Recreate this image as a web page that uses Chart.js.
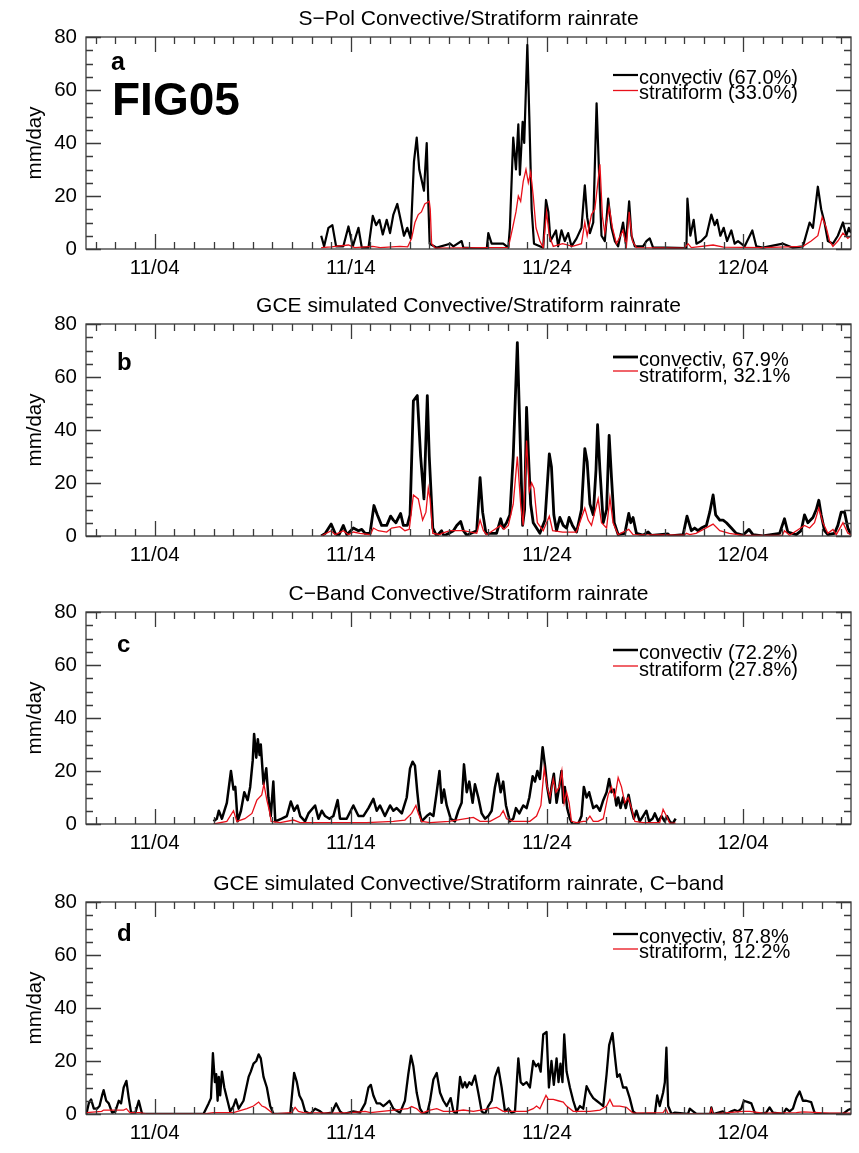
<!DOCTYPE html>
<html><head><meta charset="utf-8">
<script src="https://cdn.jsdelivr.net/npm/chart.js@4.4.1/dist/chart.umd.min.js"></script>
<style>
html,body{margin:0;padding:0;background:#fff;}
.p{position:absolute;left:0;width:859px;height:288px;}
canvas{display:block;}
</style></head><body>
<div class="p" style="top:0px"><canvas id="c0" width="859" height="288"></canvas></div>
<div class="p" style="top:287px"><canvas id="c1" width="859" height="288"></canvas></div>
<div class="p" style="top:575px"><canvas id="c2" width="859" height="288"></canvas></div>
<div class="p" style="top:865px"><canvas id="c3" width="859" height="288"></canvas></div>
<script>
// ---- categories / labels ----
const tickValues = [4, 14, 24, 34];            // day counted from Nov 0
const tickLabels = ['11/04', '11/14', '11/24', '12/04'];
const panelTitles = [
  'S\u2212Pol Convective/Stratiform rainrate',
  'GCE simulated Convective/Stratiform rainrate',
  'C\u2212Band Convective/Stratiform rainrate',
  'GCE simulated Convective/Stratiform rainrate, C\u2212band'
];
const panelLetters = ['a', 'b', 'c', 'd'];
const convLabels = ['convectiv (67.0%)', 'convectiv, 67.9%', 'convectiv (72.2%)', 'convectiv, 87.8%'];
const stratLabels = ['stratiform (33.0%)', 'stratiform, 32.1%', 'stratiform (27.8%)', 'stratiform, 12.2%'];

// ---- series values: [day, mm/day] ----
const spolConv = [[12.49,5],[12.64,1],[12.86,8],[13.06,9],[13.25,1],[13.62,1],[13.88,8.5],[14.1,1],[14.39,8],[14.56,0.5],[14.9,0.5],[15.12,12.5],[15.29,9],[15.46,11],[15.63,5.5],[15.83,11],[16.0,6],[16.17,13],[16.37,17],[16.54,11],[16.71,5],[16.88,8],[17.05,4],[17.22,33],[17.36,42],[17.49,30],[17.61,26],[17.73,22],[17.87,40],[17.95,18],[18.02,2],[18.38,0.5],[19.06,2],[19.23,1],[19.65,3],[19.74,0.5],[20.93,0],[21.01,6],[21.18,2],[21.77,2],[22.03,0.5],[22.11,8],[22.28,42],[22.42,30],[22.54,47],[22.62,28],[22.76,48],[22.84,40],[23.0,77],[23.1,50],[23.22,15],[23.34,2],[23.81,0.5],[23.95,18.5],[24.07,14],[24.18,3],[24.46,7],[24.57,1],[24.74,7],[24.91,3],[25.08,6],[25.25,1],[25.51,4],[25.76,8],[25.93,24],[26.05,12],[26.19,6],[26.36,10],[26.53,55],[26.65,30],[26.78,5],[26.95,3],[27.12,19],[27.29,8],[27.46,3],[27.63,1],[27.88,10],[28.02,2],[28.19,18],[28.31,5],[28.48,1],[28.9,1],[29.07,3],[29.24,4],[29.41,0.5],[30.09,0.5],[31.11,0.3],[31.16,19],[31.31,5],[31.48,11],[31.62,2],[31.87,3],[32.13,5],[32.38,13],[32.55,9],[32.67,11],[32.84,5],[33.01,8],[33.18,3],[33.4,7],[33.57,2],[33.74,3],[34.08,1],[34.47,7],[34.67,1],[35.01,0.5],[36.03,2],[36.54,0.5],[37.05,1],[37.39,10],[37.56,8],[37.81,23.5],[37.98,15],[38.15,10],[38.32,3],[38.58,2],[38.83,5],[39.09,10],[39.26,5],[39.39,8],[39.5,6]];
const spolStrat = [[12.49,0.5],[13.0,0.8],[13.88,1.5],[14.2,0.5],[15.12,1],[15.5,0.5],[16.5,1],[16.9,0.8],[17.1,4],[17.27,10],[17.44,13],[17.6,14],[17.77,17],[18.0,18],[18.05,15],[18.12,2],[18.3,0.3],[21.0,0.5],[22.03,0.5],[22.25,8],[22.42,14],[22.54,20],[22.66,18],[22.79,25.5],[22.93,30],[23.05,25],[23.17,29],[23.3,20],[23.44,8],[23.64,3],[23.81,0.5],[23.98,14],[24.12,5],[24.32,1],[24.8,2],[25.3,1],[25.76,2],[25.93,10],[26.05,5],[26.27,13],[26.44,15],[26.7,32],[26.83,12],[26.95,6],[27.17,16],[27.34,8],[27.54,2],[27.88,7],[28.05,1],[28.19,14],[28.36,3],[28.56,0.5],[31.0,0.3],[31.19,2],[31.36,0.5],[32.47,1.5],[33.0,0.7],[35.0,0.5],[37.05,1],[37.47,3],[37.81,5],[38.03,12],[38.24,8],[38.41,3],[38.58,1],[38.83,3],[39.09,6],[39.34,4],[39.5,5]];

const gceConv = [[12.49,0],[12.7,1],[13.0,4.5],[13.2,1],[13.37,0],[13.62,4],[13.8,0.5],[14.13,3],[14.39,2],[14.56,2.5],[14.73,1],[14.98,1],[15.18,11.5],[15.35,8],[15.57,4],[15.83,4],[16.03,7.5],[16.17,6],[16.3,5],[16.54,8.5],[16.68,4],[16.88,4],[17.02,8],[17.19,51],[17.39,53],[17.56,30],[17.73,14],[17.9,53],[18.0,30],[18.18,3],[18.38,0],[18.63,2],[18.75,0],[19.23,2],[19.4,4],[19.6,5.5],[19.74,2],[19.91,0.3],[20.42,2],[20.59,22],[20.72,9],[20.89,1],[21.43,1],[21.64,6.5],[21.77,3],[21.94,5],[22.11,8],[22.28,30],[22.49,73],[22.62,40],[22.76,4],[22.86,10],[22.96,48.5],[23.06,30],[23.17,12],[23.3,5],[23.64,1],[23.9,6],[24.12,31],[24.23,26],[24.35,8],[24.49,2],[24.66,7],[24.83,4],[25.0,3],[25.13,7],[25.3,4],[25.51,1.5],[25.76,10],[25.93,33],[26.05,28],[26.19,12],[26.36,8],[26.5,25],[26.58,42],[26.7,25],[26.87,5],[27.04,10],[27.17,38],[27.29,22],[27.43,5],[27.63,0.5],[27.97,1],[28.17,8.5],[28.27,5],[28.39,7],[28.56,1],[28.9,0.3],[29.16,1.5],[29.33,0.2],[30.17,0.8],[30.26,0],[30.94,0.5],[31.14,7.5],[31.36,2],[31.53,3],[31.7,2],[31.87,3],[32.13,4],[32.3,9],[32.47,15.5],[32.6,8],[32.81,6],[32.98,6],[33.15,5],[33.4,3],[33.65,1],[33.99,0.3],[34.3,2.5],[34.5,0.5],[35.0,0],[35.86,1],[36.11,6.5],[36.28,1.5],[36.71,0.5],[36.96,2],[37.13,8],[37.3,5],[37.56,7],[37.73,10],[37.86,13.5],[37.98,8],[38.15,2],[38.32,0.5],[38.66,1],[38.83,4],[39.0,9],[39.17,9],[39.34,3],[39.5,0.5]];
const gceStrat = [[12.49,0],[13.0,2],[13.2,0.5],[13.62,2],[13.88,0.5],[14.13,1.5],[14.47,1],[15.0,0.5],[15.15,3],[15.4,2],[15.83,1.5],[16.08,3],[16.5,3.5],[16.76,2],[16.98,2.5],[17.19,15.5],[17.44,14],[17.66,6],[17.83,9],[17.95,18],[18.04,14],[18.18,1],[18.55,0.5],[18.63,1],[19.06,2],[19.74,2],[20.42,1],[20.59,6],[20.76,2],[20.93,0.5],[21.64,4],[21.81,2.5],[22.03,4],[22.28,12],[22.49,30],[22.66,12],[22.79,4],[22.96,36],[23.1,17],[23.22,20],[23.34,18],[23.51,5],[23.81,2],[24.12,7.5],[24.29,2],[24.8,1.5],[25.5,1.5],[25.93,10.5],[26.1,6],[26.27,4],[26.61,14],[26.78,5],[27.04,3],[27.21,14.5],[27.37,5],[27.63,0.5],[28.17,2.5],[28.39,0.5],[31.0,0.3],[31.11,1],[31.28,0.5],[31.6,1],[32.47,4.5],[32.81,2],[33.3,1],[34.0,0.2],[36.0,0.3],[36.11,2],[36.37,0.3],[37.13,4],[37.39,3],[37.64,5],[37.86,10.5],[38.07,5],[38.32,1],[38.58,2.5],[38.75,0.5],[39.09,5],[39.34,1],[39.5,0.5]];

const cbandConv = [[7.0,1],[7.17,2],[7.27,5],[7.43,2],[7.68,8],[7.89,20],[8.02,13],[8.11,14],[8.23,1],[8.4,5],[8.57,12],[8.74,9],[8.87,14],[9.0,24],[9.07,34],[9.18,25],[9.26,32],[9.35,26],[9.41,30],[9.55,15],[9.69,21],[9.8,10],[9.92,3],[10.05,16],[10.15,1],[10.48,2],[10.74,3],[10.94,8.5],[11.11,5],[11.28,7],[11.42,3],[11.67,1],[11.84,4],[12.18,7],[12.35,2],[12.52,5],[12.69,3],[12.91,2],[13.11,3],[13.33,9],[13.45,2],[13.79,2],[14.13,7],[14.39,3],[14.64,3],[14.9,6],[15.15,9.5],[15.32,5],[15.49,7],[15.74,3],[16.0,7],[16.17,5],[16.34,6],[16.6,4],[16.85,10],[17.02,21],[17.15,23.5],[17.27,22],[17.39,12],[17.49,5],[17.61,1],[17.87,3],[18.04,4],[18.21,3],[18.38,12],[18.52,20],[18.63,8],[18.75,13],[18.89,7],[19.09,2],[19.31,1],[19.48,5],[19.65,8],[19.77,22.5],[19.91,12],[20.04,16],[20.21,8],[20.33,15],[20.5,10],[20.67,4],[20.84,2],[21.01,3],[21.18,5],[21.35,14],[21.49,19],[21.64,12],[21.77,16],[21.91,7],[22.11,1],[22.28,2],[22.42,6],[22.59,4],[22.79,7],[22.96,6],[23.1,10],[23.27,18],[23.39,16],[23.51,20],[23.64,17],[23.78,29],[23.9,22],[24.01,14],[24.15,8],[24.23,14],[24.35,19],[24.49,8],[24.63,14],[24.74,20],[24.83,8],[24.91,14],[25.03,6],[25.17,2],[25.3,0],[25.59,0],[25.76,3],[25.88,14],[26.02,10],[26.15,12],[26.36,6],[26.53,7],[26.7,5],[26.87,9],[27.04,12],[27.17,17],[27.29,12],[27.41,13],[27.54,7],[27.63,10],[27.75,6],[27.88,10],[28.02,6],[28.16,11],[28.29,6],[28.43,2],[28.56,5],[28.73,1],[28.9,3],[29.07,5],[29.21,1],[29.38,2],[29.5,4],[29.67,1],[29.84,3],[30.0,1],[30.12,3],[30.26,1],[30.4,0],[30.56,2]];
const cbandStrat = [[7.0,0],[7.68,1],[8.02,5],[8.19,1],[8.6,2],[8.96,4],[9.21,9],[9.46,11],[9.57,15],[9.72,9],[9.85,5],[9.94,1],[10.4,0.5],[11.08,1.5],[11.42,0.5],[13.1,0.5],[14.8,0.5],[16.17,1],[16.76,1.5],[17.1,4],[17.32,7],[17.44,4],[17.61,1],[18.04,0.5],[19.0,1],[20.25,2.5],[20.59,1],[21.1,1],[21.6,3],[21.77,5],[21.94,2],[22.28,1],[22.62,1],[23.13,1],[23.47,3],[23.69,7],[23.86,21],[24.01,14],[24.15,10],[24.32,17],[24.46,12],[24.63,14],[24.76,20],[24.88,8],[25.0,12],[25.13,8],[25.25,1],[25.51,0.5],[25.85,1],[26.0,1],[26.19,3],[26.36,1],[26.61,1],[26.87,2],[27.12,11],[27.29,14],[27.46,10],[27.63,17.5],[27.8,14],[27.97,8],[28.14,10],[28.31,6],[28.48,1],[28.9,0.5],[29.75,0.5],[29.92,5.5],[30.09,3],[30.26,0.3],[30.56,0.3]];

const gceCConv = [[0.52,0],[0.64,4],[0.76,5.5],[0.9,2],[1.06,2],[1.19,3],[1.32,7],[1.4,9],[1.53,5],[1.66,4],[1.83,0.5],[2.0,1],[2.17,5],[2.29,4],[2.42,10],[2.56,12.5],[2.68,6],[2.8,0.5],[3.02,0.5],[3.19,5],[3.36,0],[6.49,0],[6.75,4],[6.87,6],[6.97,23],[7.07,12],[7.14,15],[7.21,5],[7.27,14],[7.34,7],[7.43,16],[7.55,10],[7.68,6],[7.85,1],[8.02,3],[8.14,5.5],[8.28,2],[8.53,5],[8.79,14],[8.9,16],[9.04,19],[9.18,20],[9.3,22.5],[9.41,21],[9.55,14],[9.72,10],[9.89,3],[10.06,0],[10.91,0],[11.11,15.5],[11.25,12],[11.38,7],[11.52,5],[11.67,1],[11.93,0],[12.18,2],[12.44,1],[12.6,0],[13.03,0.5],[13.25,4],[13.45,1],[13.62,0],[14.13,1],[14.47,0.5],[14.73,4],[14.9,10],[15.02,11],[15.15,7],[15.32,4],[15.49,4],[15.66,3],[15.83,4],[15.97,5],[16.17,2],[16.51,0.5],[16.76,5],[16.93,15],[17.07,22],[17.19,18],[17.36,8],[17.53,2],[17.7,0],[17.9,0.5],[18.04,5],[18.21,13],[18.38,15.5],[18.55,8],[18.72,5],[18.89,3],[19.09,6],[19.23,1],[19.4,0],[19.57,14],[19.7,10],[19.82,12],[19.91,10],[20.04,12],[20.16,11],[20.33,14.5],[20.5,8],[20.67,1],[20.84,0],[21.01,3],[21.18,5],[21.35,14],[21.52,17.5],[21.69,10],[21.86,1],[22.03,2],[22.2,0.5],[22.37,1],[22.54,21],[22.66,12],[22.79,11],[22.96,12],[23.13,10],[23.3,20],[23.44,18],[23.56,19],[23.68,16],[23.81,30],[23.98,31],[24.1,10],[24.23,20],[24.35,11],[24.49,21],[24.59,12],[24.69,19],[24.79,12],[24.88,30],[25.0,16],[25.17,10],[25.34,5],[25.51,1],[25.68,3],[25.85,2],[26.02,10.5],[26.19,8],[26.36,6],[26.53,5],[26.7,4],[26.87,3],[27.04,15],[27.17,26],[27.34,30.5],[27.46,22],[27.58,14],[27.71,15],[27.88,10],[28.05,10],[28.22,6],[28.39,1],[28.56,0],[29.5,0],[29.62,7],[29.75,3],[29.92,8],[30.01,12],[30.09,25],[30.18,3],[30.35,0],[30.52,0.5],[31.19,0],[31.28,2],[31.45,1],[31.62,0],[32.33,0],[32.38,2.5],[32.47,0],[32.97,1],[33.15,0],[33.4,1],[33.57,1.5],[33.74,1],[33.91,2],[34.04,5],[34.25,4.5],[34.42,4],[34.59,0.5],[34.84,0],[35.18,0.5],[35.35,2.5],[35.52,0.5],[36.03,0],[36.2,2],[36.37,1],[36.54,2],[36.71,6],[36.88,8.5],[37.05,5],[37.22,5],[37.47,4.5],[37.64,0.5],[37.9,0],[39.09,0],[39.34,1.5],[39.5,2]];
const gceCStrat = [[0.52,0.5],[1.3,1],[1.4,1.5],[2.42,1.5],[2.56,2],[2.73,0.5],[3.24,0.5],[3.58,0],[6.49,0],[7.0,0.5],[8.02,0.5],[8.7,2],[9.04,3],[9.3,4.5],[9.47,3],[9.64,2.5],[9.89,1],[10.06,0],[10.99,0.5],[11.16,2.5],[11.33,1],[11.59,0.5],[13.0,0.3],[14.0,0.5],[14.73,1],[15.0,0.5],[16.9,2],[17.1,2.8],[17.36,2],[17.61,0.3],[18.04,1.5],[18.38,2],[18.72,1],[19.23,1],[19.74,1.5],[20.25,1],[21.43,2.5],[21.77,1],[22.45,1],[22.96,1],[23.3,2],[23.47,3],[23.64,2],[23.95,7],[24.07,5.5],[24.32,5.5],[24.57,5],[24.83,4.5],[25.0,3],[25.34,1],[25.68,1],[26.19,1],[26.7,1.5],[27.04,3],[27.21,5.5],[27.37,3],[27.71,3],[28.05,2.5],[28.39,0.3],[29.92,0.5],[30.06,2],[30.18,0],[32.3,0],[32.38,2],[32.47,0],[34.0,1],[34.34,1],[35.0,0.3],[36.71,0.5],[37.05,0.8],[38.4,0.3],[39.5,0.3]];

// ---- drawing ----
const FONT = "'Liberation Sans', Arial, Helvetica, sans-serif";
const RED = '#e8101a';
const AXIS = '#3a3a3a';

const panels = [
  {conv: spolConv, strat: spolStrat, convW: 2.2, legTop: [38, 53.5], legBase: [47, 61.5], letterBase: 33, letterSize: 25, fig: true},
  {conv: gceConv, strat: gceStrat, convW: 2.8, legTop: [33, 47], legBase: [42, 58], letterBase: 46, letterSize: 24, fig: false},
  {conv: cbandConv, strat: cbandStrat, convW: 2.5, legTop: [38, 54], legBase: [47, 64], letterBase: 40, letterSize: 24, fig: false},
  {conv: gceCConv, strat: gceCStrat, convW: 2.3, legTop: [32, 47], legBase: [41, 56], letterBase: 39, letterSize: 24, fig: false}
];

function toXY(arr) { return arr.map(p => ({x: p[0], y: p[1]})); }

const framePlugin = {
  id: 'frame',
  afterDraw(chart, args, opts) {
    const ctx = chart.ctx, a = chart.chartArea;
    const xs = chart.scales.x, ys = chart.scales.y;
    const p = opts.panel, i = opts.index;
    ctx.save();
    // title centred over plot area
    ctx.fillStyle = '#000';
    ctx.font = '21px ' + FONT;
    ctx.textAlign = 'center'; ctx.textBaseline = 'alphabetic';
    ctx.fillText(panelTitles[i], (a.left + a.right) / 2, a.top - 12);
    // frame + inward ticks
    ctx.strokeStyle = AXIS; ctx.lineWidth = 1.3;
    ctx.strokeRect(a.left, a.top, a.right - a.left, a.bottom - a.top);
    ctx.beginPath();
    for (let d = Math.ceil(xs.min); d <= Math.floor(xs.max); d++) {
      const px = Math.round(xs.getPixelForValue(d)) + 0.5;
      const len = tickValues.includes(d) ? 15 : 7;
      ctx.moveTo(px, a.bottom); ctx.lineTo(px, a.bottom - len);
      ctx.moveTo(px, a.top); ctx.lineTo(px, a.top + len);
    }
    for (let v = 0; v <= 80; v += 5) {
      const py = Math.round(ys.getPixelForValue(v)) + 0.5;
      const len = (v % 20 === 0) ? 15 : 7;
      ctx.moveTo(a.left, py); ctx.lineTo(a.left + len, py);
      ctx.moveTo(a.right, py); ctx.lineTo(a.right - len, py);
    }
    ctx.stroke();
    // legend
    ctx.lineWidth = p.convW; ctx.strokeStyle = '#000';
    ctx.beginPath(); ctx.moveTo(613, a.top + p.legTop[0]); ctx.lineTo(638, a.top + p.legTop[0]); ctx.stroke();
    ctx.lineWidth = 1.3; ctx.strokeStyle = RED;
    ctx.beginPath(); ctx.moveTo(613, a.top + p.legTop[1]); ctx.lineTo(638, a.top + p.legTop[1]); ctx.stroke();
    ctx.font = '20px ' + FONT;
    ctx.textAlign = 'left';
    ctx.fillText(convLabels[i], 639, a.top + p.legBase[0]);
    ctx.fillText(stratLabels[i], 639, a.top + p.legBase[1]);
    // panel letter
    ctx.font = 'bold ' + p.letterSize + 'px ' + FONT;
    ctx.fillText(panelLetters[i], i === 0 ? 111 : 117, a.top + p.letterBase);
    if (p.fig) {
      ctx.font = 'bold 46px ' + FONT;
      ctx.fillText('FIG05', 112, 115);
    }
    ctx.restore();
  }
};

panels.forEach((p, i) => {
  new Chart(document.getElementById('c' + i), {
    type: 'line',
    data: {
      datasets: [
        {label: convLabels[i], data: toXY(p.conv), borderColor: '#000', borderWidth: p.convW, pointRadius: 0, tension: 0, fill: false, order: 2, borderJoinStyle: 'round'},
        {label: stratLabels[i], data: toXY(p.strat), borderColor: RED, borderWidth: 1.3, pointRadius: 0, tension: 0, fill: false, order: 1}
      ]
    },
    options: {
      responsive: false, animation: false, devicePixelRatio: 1,
      layout: {padding: {left: 0, right: 8, top: 37, bottom: 0}},
      plugins: {
        legend: {display: false}, tooltip: {enabled: false}, title: {display: false},
        frame: {panel: p, index: i}
      },
      scales: {
        x: {
          type: 'linear', min: 0.5, max: 39.5,
          grid: {display: false, drawTicks: false}, border: {display: false},
          afterBuildTicks: s => { s.ticks = tickValues.map(v => ({value: v})); },
          ticks: {callback: v => tickLabels[tickValues.indexOf(v)] ?? '', color: '#000',
                  font: {family: FONT, size: 20.5}, padding: 7, maxRotation: 0, autoSkip: false},
          afterFit: s => { s.height = 39; }
        },
        y: {
          min: 0, max: 80,
          grid: {display: false, drawTicks: false}, border: {display: false},
          ticks: {stepSize: 20, color: '#000', font: {family: FONT, size: 20.5}, padding: 9},
          title: {display: true, text: 'mm/day', color: '#000', font: {family: FONT, size: 20.5}, padding: {top: 23, bottom: 0}},
          afterFit: s => { s.width = 86; }
        }
      }
    },
    plugins: [framePlugin]
  });
});
</script>
</body></html>
